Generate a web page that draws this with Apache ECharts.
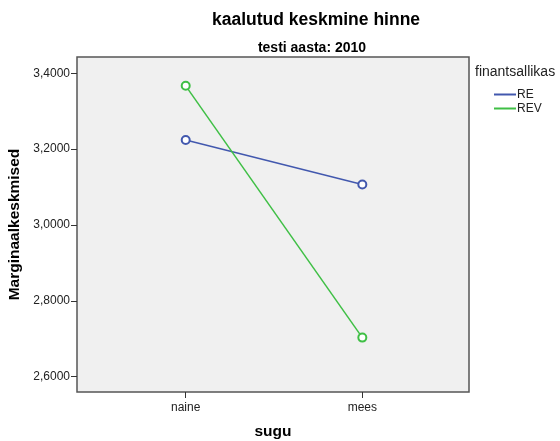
<!DOCTYPE html>
<html><head><meta charset="utf-8">
<script src="https://cdn.jsdelivr.net/npm/echarts@6/dist/echarts.min.js"></script>
<style>html,body{margin:0;padding:0;background:#fff}#c{width:560px;height:441px}</style>
</head><body><div id="c"></div>
<script>
const categories = ['naine', 'mees'];
const seriesNames = ['RE', 'REV'];
const valuesRE = [3.224, 3.107];
const valuesREV = [3.367, 2.703];
const yTicks = [2.6, 2.8, 3.0, 3.2, 3.4];
const colors = ['#4258ae', '#3fbf45'];
const FONT = 'Liberation Sans, Arial, sans-serif';

const chart = echarts.init(document.getElementById('c'));
const toPts = arr => arr.map((v, i) => [i, v]);
chart.setOption({
  animation: false,
  title: [
    {text: 'kaalutud keskmine hinne', left: 311, top: 6, textAlign: 'center',
     textStyle: {fontFamily: FONT, fontSize: 17.5, fontWeight: 'bold', color: '#000'}},
    {text: 'testi aasta: 2010', left: 307, top: 36, textAlign: 'center',
     textStyle: {fontFamily: FONT, fontSize: 14, fontWeight: 'bold', color: '#000'}}
  ],
  graphic: [{type: 'text', left: 475, top: 65,
    style: {text: 'finantsallikas', font: '14px ' + FONT, fill: '#222'}}],
  legend: {
    orient: 'vertical', left: 494, top: 88, itemGap: 1, itemWidth: 22, itemHeight: 2,
    icon: 'rect', data: seriesNames, padding: 0,
    textStyle: {fontFamily: FONT, fontSize: 12, color: '#222', padding: [0, 0, 0, -4], lineHeight: 13}
  },
  grid: {left: 77, top: 57, width: 392, height: 335, show: true, outerBoundsMode: 'none',
    backgroundColor: '#f0f0f0', borderColor: '#555', borderWidth: 1.5},
  xAxis: {
    type: 'value', min: -0.6155, max: 1.604,
    name: 'sugu', nameLocation: 'middle', nameGap: 32,
    nameTextStyle: {fontFamily: FONT, fontSize: 15.5, fontWeight: 'bold', color: '#000'},
    axisLine: {show: false, onZero: false}, splitLine: {show: false},
    axisTick: {show: true, length: 6, customValues: [0, 1], lineStyle: {color: '#333'}},
    axisLabel: {customValues: [0, 1], formatter: v => categories[Math.round(v)] || '',
      fontFamily: FONT, fontSize: 12, color: '#222', margin: 10}
  },
  yAxis: {
    type: 'value', min: 2.5596, max: 3.443,
    name: 'Marginaalkeskmised', nameLocation: 'middle', nameGap: 52,
    nameTextStyle: {fontFamily: FONT, fontSize: 15.5, fontWeight: 'bold', color: '#000'},
    axisLine: {show: false, onZero: false}, splitLine: {show: false},
    axisTick: {show: true, length: 6, customValues: yTicks, lineStyle: {color: '#333'}},
    axisLabel: {customValues: yTicks, formatter: v => v.toFixed(4).replace('.', ','),
      fontFamily: FONT, fontSize: 12, color: '#222', margin: 7}
  },
  series: [
    {name: seriesNames[0], type: 'line', data: toPts(valuesRE), symbol: 'emptyCircle', symbolSize: 8,
     itemStyle: {color: colors[0], borderWidth: 1}, lineStyle: {color: colors[0], width: 1.5}},
    {name: seriesNames[1], type: 'line', data: toPts(valuesREV), symbol: 'emptyCircle', symbolSize: 8,
     itemStyle: {color: colors[1], borderWidth: 1}, lineStyle: {color: colors[1], width: 1.5}}
  ]
});
</script></body></html>
